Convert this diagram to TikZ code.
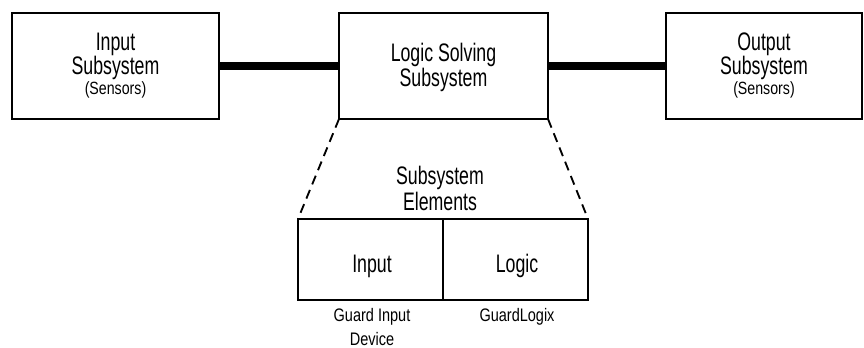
\documentclass[tikz,border=0pt]{standalone}
\usepackage{fontspec}
\setmainfont[FakeStretch=0.7]{Liberation Sans}
\newfontfamily\labfont[FakeStretch=0.8]{Liberation Sans}
\begin{document}
\begin{tikzpicture}[x=0.75pt,y=-0.75pt,
  box/.style={draw=black,line width=1.5pt,inner sep=0pt,outer sep=0pt},
  big/.style={font=\fontsize{19}{22}\selectfont,inner sep=0pt,anchor=base},
  small/.style={font=\labfont\fontsize{13.3}{16}\selectfont,inner sep=0pt,anchor=base},
  lab/.style={font=\labfont\fontsize{13.6}{16}\selectfont,inner sep=0pt,anchor=base},
  bus/.style={line width=6pt},
  zoomline/.style={line width=1.4pt,dash pattern=on 7pt off 4.5pt}]
\useasboundingbox (0,0) rectangle (864,348);
% top boxes
\node[box,minimum width=207*0.75pt,minimum height=106*0.75pt] (inbox) at (115.5,66) {};
\node[box,minimum width=209*0.75pt,minimum height=106*0.75pt] (logbox) at (443.5,66) {};
\node[box,minimum width=196*0.75pt,minimum height=106*0.75pt] (outbox) at (764,66) {};
% bus lines
\draw[bus] (inbox.east) -- (logbox.west);
\draw[bus] (logbox.east) -- (outbox.west);
% top texts
\node[big] (t1) at (115.5,51) {Input};
\node[big] (t2) at (115.5,75) {Subsystem};
\node[small] (t3) at (115.5,95) {(Sensors)};
\node[big] (t4) at (443.5,62) {Logic Solving};
\node[big] (t5) at (443.5,87) {Subsystem};
\node[big] (t6) at (764,51) {Output};
\node[big] (t7) at (764,75) {Subsystem};
\node[small] (t8) at (764,95) {(Sensors)};
% bottom cells
\node[box,minimum width=145*0.75pt,minimum height=81*0.75pt] (incell) at (370.5,259.5) {};
\node[box,minimum width=145*0.75pt,minimum height=81*0.75pt] (logcell) at (515.5,259.5) {};
\node[big] (e1) at (440,185) {Subsystem};
\node[big] (e2) at (440,211) {Elements};
\node[big] (c1) at (372,273) {Input};
\node[big] (c2) at (517,273) {Logic};
\node[lab] (g1) at (372,322) {Guard Input};
\node[lab] (g2) at (372,346) {Device};
\node[lab] (g3) at (517,322) {GuardLogix};
% zoom lines
\draw[zoomline] (logbox.south west) -- (incell.north west);
\draw[zoomline] (logbox.south east) -- (logcell.north east);
\end{tikzpicture}
\end{document}
